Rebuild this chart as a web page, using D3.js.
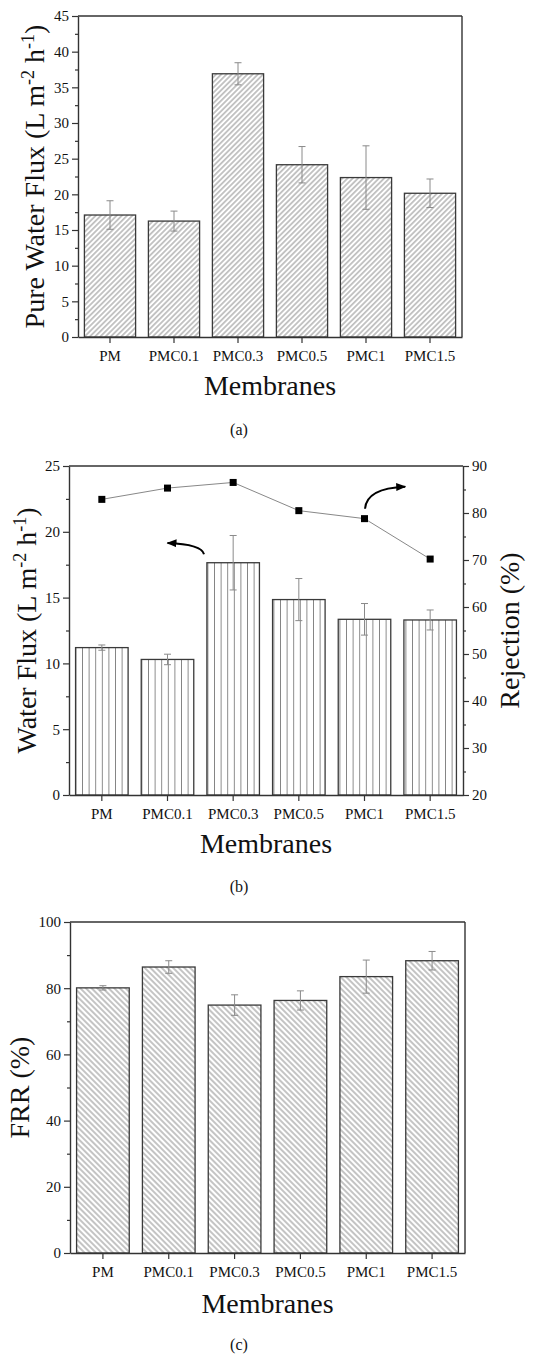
<!DOCTYPE html>
<meta charset="utf-8">
<script src="https://d3js.org/d3.v7.min.js"></script>
<style>
  body { margin: 0; background: #fff; }
  text { font-family: "Liberation Serif", "Times New Roman", serif; fill: #111; }
</style>
<body>
<div id="chart"></div>
<script>
// categories shared by the three panels
var membranes = ["PM", "PMC0.1", "PMC0.3", "PMC0.5", "PMC1", "PMC1.5"];

// (a) pure water flux
var pureFlux    = [17.1, 16.25, 36.9, 24.15, 22.35, 20.15];
var pureFluxErr = [2.0, 1.4, 1.55, 2.55, 4.45, 2.0];

// (b) water flux + rejection
var waterFlux    = [11.2, 10.3, 17.65, 14.85, 13.35, 13.3];
var waterFluxErr = [0.2, 0.4, 2.07, 1.6, 1.2, 0.76];
var rejection    = [82.9, 85.3, 86.5, 80.5, 78.8, 70.2];

// (c) flux recovery ratio
var frr    = [80.1, 86.4, 74.9, 76.3, 83.5, 88.3];
var frrErr = [0.65, 1.9, 3.1, 2.9, 5.0, 2.8];

// tick values
var ticksA = [0, 5, 10, 15, 20, 25, 30, 35, 40, 45];
var ticksBLeft = [0, 5, 10, 15, 20, 25];
var ticksBRight = [20, 30, 40, 50, 60, 70, 80, 90];
var ticksC = [0, 20, 40, 60, 80, 100];

var W = 543, H = 1358;
var svg = d3.select("#chart").append("svg")
  .attr("width", W).attr("height", H);

var defs = svg.append("defs");

// hatch patterns
function hatch(id, angle, gap) {
  var p = defs.append("pattern")
    .attr("id", id)
    .attr("patternUnits", "userSpaceOnUse")
    .attr("width", gap).attr("height", 10)
    .attr("patternTransform", "rotate(" + angle + ")");
  p.append("rect").attr("width", gap).attr("height", 10).attr("fill", "#fff");
  p.append("line")
    .attr("x1", gap / 2).attr("x2", gap / 2)
    .attr("y1", 0).attr("y2", 10)
    .attr("stroke", "#555").attr("stroke-width", 0.7);
}
hatch("hatchA", 45, 3.7);
hatch("hatchB", 0, 6.6);
hatch("hatchC", -45, 4.0);

defs.append("marker")
  .attr("id", "arrowHead")
  .attr("viewBox", "0 0 10 10")
  .attr("refX", 9).attr("refY", 5)
  .attr("markerWidth", 5).attr("markerHeight", 5)
  .attr("markerUnits", "strokeWidth")
  .attr("orient", "auto")
  .append("path")
  .attr("d", "M0,1 L10,5 L0,9 Z")
  .attr("fill", "#000");

function styleAxis(g) {
  g.attr("font-family", null).attr("font-size", null);
  g.selectAll(".domain").attr("stroke", "#333").attr("stroke-width", 1.4);
  g.selectAll(".tick line").attr("stroke", "#333").attr("stroke-width", 1.2);
  g.selectAll(".tick text")
    .style("font-family", "'Liberation Serif', serif")
    .style("font-size", "15px").attr("fill", "#111");
}

function minorTicks(major) {
  var m = [];
  for (var i = 0; i < major.length - 1; i++) m.push((major[i] + major[i + 1]) / 2);
  return m;
}

function drawPanel(cfg) {
  var g = svg.append("g");
  var x = d3.scaleBand().domain(membranes)
    .range([cfg.left, cfg.right]).paddingInner(0.2).paddingOuter(0.1);
  var y = d3.scaleLinear().domain(cfg.yDomain).range([cfg.bottom, cfg.top]);

  // bars
  g.selectAll(".bar").data(cfg.values).enter().append("rect")
    .attr("x", function(d, i) { return x(membranes[i]); })
    .attr("y", function(d) { return y(d); })
    .attr("width", x.bandwidth())
    .attr("height", function(d) { return y(cfg.yDomain[0]) - y(d); })
    .attr("fill", "url(#" + cfg.pattern + ")")
    .attr("stroke", "#3a3a3a").attr("stroke-width", 1.3);

  // error bars
  var eb = g.selectAll(".err").data(cfg.values).enter().append("g")
    .attr("stroke", "#8a8a8a").attr("stroke-width", 1);
  eb.append("line")
    .attr("x1", function(d, i) { return x(membranes[i]) + x.bandwidth() / 2; })
    .attr("x2", function(d, i) { return x(membranes[i]) + x.bandwidth() / 2; })
    .attr("y1", function(d, i) { return y(d + cfg.errs[i]); })
    .attr("y2", function(d, i) { return y(d - cfg.errs[i]); });
  [1, -1].forEach(function(s) {
    eb.append("line")
      .attr("x1", function(d, i) { return x(membranes[i]) + x.bandwidth() / 2 - 3.5; })
      .attr("x2", function(d, i) { return x(membranes[i]) + x.bandwidth() / 2 + 3.5; })
      .attr("y1", function(d, i) { return y(d + s * cfg.errs[i]); })
      .attr("y2", function(d, i) { return y(d + s * cfg.errs[i]); });
  });

  // frame
  g.append("line").attr("x1", cfg.left).attr("x2", cfg.right)
    .attr("y1", cfg.top).attr("y2", cfg.top)
    .attr("stroke", "#333").attr("stroke-width", 1.4);
  if (!cfg.right2) {
    g.append("line").attr("x1", cfg.right).attr("x2", cfg.right)
      .attr("y1", cfg.top).attr("y2", cfg.bottom)
      .attr("stroke", "#333").attr("stroke-width", 1.4);
  }

  // left axis
  var ya = g.append("g").attr("transform", "translate(" + cfg.left + ",0)")
    .call(d3.axisLeft(y).tickValues(cfg.ticks).tickSize(6).tickSizeOuter(0).tickPadding(3));
  styleAxis(ya);
  var ym = g.append("g").attr("transform", "translate(" + cfg.left + ",0)")
    .call(d3.axisLeft(y).tickValues(minorTicks(cfg.ticks)).tickSize(3).tickFormat(""));
  styleAxis(ym);
  ym.select(".domain").remove();

  // bottom axis
  var xa = g.append("g").attr("transform", "translate(0," + cfg.bottom + ")")
    .call(d3.axisBottom(x).tickSize(6).tickSizeOuter(0).tickPadding(7));
  styleAxis(xa);

  // right axis (panel b)
  if (cfg.right2) {
    var y2 = d3.scaleLinear().domain(cfg.right2.domain).range([cfg.bottom, cfg.top]);
    var ra = g.append("g").attr("transform", "translate(" + cfg.right + ",0)")
      .call(d3.axisRight(y2).tickValues(cfg.right2.ticks).tickSize(6).tickSizeOuter(0).tickPadding(3));
    styleAxis(ra);
    var rm = g.append("g").attr("transform", "translate(" + cfg.right + ",0)")
      .call(d3.axisRight(y2).tickValues(minorTicks(cfg.right2.ticks)).tickSize(3).tickFormat(""));
    styleAxis(rm);
    rm.select(".domain").remove();

    var cx = function(d, i) { return x(membranes[i]) + x.bandwidth() / 2; };
    g.append("path").datum(cfg.right2.values)
      .attr("fill", "none").attr("stroke", "#888").attr("stroke-width", 1)
      .attr("d", d3.line().x(cx).y(function(d) { return y2(d); }));
    g.selectAll(".pt").data(cfg.right2.values).enter().append("rect")
      .attr("x", function(d, i) { return cx(d, i) - 3.5; })
      .attr("y", function(d) { return y2(d) - 3.5; })
      .attr("width", 7).attr("height", 7).attr("fill", "#000");

    // curved arrows pointing to the axis of each series
    var xi = d3.scaleLinear().domain([0, 1])
      .range([x(membranes[0]) + x.bandwidth() / 2, x(membranes[1]) + x.bandwidth() / 2]);
    cfg.arrows.forEach(function(a) {
      var sc = a.axis === "left" ? y : y2;
      var p = a.pts.map(function(q) { return [xi(q[0]), sc(q[1])]; });
      g.append("path")
        .attr("d", "M" + p[0] + "Q" + p[1] + " " + p[2])
        .attr("fill", "none").attr("stroke", "#000").attr("stroke-width", 2)
        .attr("marker-end", "url(#arrowHead)");
    });

    g.append("text")
      .attr("transform", "translate(" + cfg.right2.titleX + "," + (cfg.top + cfg.bottom) / 2 + ") rotate(-90)")
      .attr("text-anchor", "middle")
      .style("font-size", "28px")
      .text(cfg.right2.title);
  }

  // y title
  var yt = g.append("text")
    .attr("transform", "translate(" + cfg.titleX + "," + (cfg.top + cfg.bottom) / 2 + ") rotate(-90)")
    .attr("text-anchor", "middle")
    .style("font-size", "28px");
  cfg.yTitle.forEach(function(part) {
    var t = yt.append("tspan").text(part[0]);
    if (part[1]) t.attr("baseline-shift", "super").style("font-size", "18px");
  });

  // x title
  g.append("text")
    .attr("x", (cfg.left + cfg.right) / 2).attr("y", cfg.xTitleY)
    .attr("text-anchor", "middle")
    .style("font-size", "28px")
    .text("Membranes");

  // panel letter
  g.append("text")
    .attr("x", 239).attr("y", cfg.letterY)
    .attr("text-anchor", "middle")
    .style("font-size", "16px")
    .text(cfg.letter);
}

var fluxTitle = [["L m"], ["-2", true], [" h"], ["-1", true], [")"]];

drawPanel({
  left: 78, right: 462, top: 16, bottom: 337,
  yDomain: [0, 45], ticks: ticksA,
  values: pureFlux, errs: pureFluxErr, pattern: "hatchA",
  titleX: 44, yTitle: [["Pure Water Flux ("]].concat(fluxTitle),
  xTitleY: 395, letter: "(a)", letterY: 435
});

drawPanel({
  left: 69, right: 463, top: 466, bottom: 795,
  yDomain: [0, 25], ticks: ticksBLeft,
  values: waterFlux, errs: waterFluxErr, pattern: "hatchB",
  titleX: 36, yTitle: [["Water Flux ("]].concat(fluxTitle),
  xTitleY: 853, letter: "(b)", letterY: 892,
  right2: {
    domain: [20, 90], ticks: ticksBRight, values: rejection,
    title: "Rejection (%)", titleX: 519
  },
  arrows: [
    { axis: "left", pts: [[1.556, 18.3], [1.52, 19.05], [1.0, 19.15]] },
    { axis: "right", pts: [[4.008, 80.9], [4.03, 85.3], [4.62, 85.6]] }
  ]
});

drawPanel({
  left: 70, right: 465, top: 922, bottom: 1253,
  yDomain: [0, 100], ticks: ticksC,
  values: frr, errs: frrErr, pattern: "hatchC",
  titleX: 29, yTitle: [["FRR (%)"]],
  xTitleY: 1313, letter: "(c)", letterY: 1350
});
</script>
</body>
